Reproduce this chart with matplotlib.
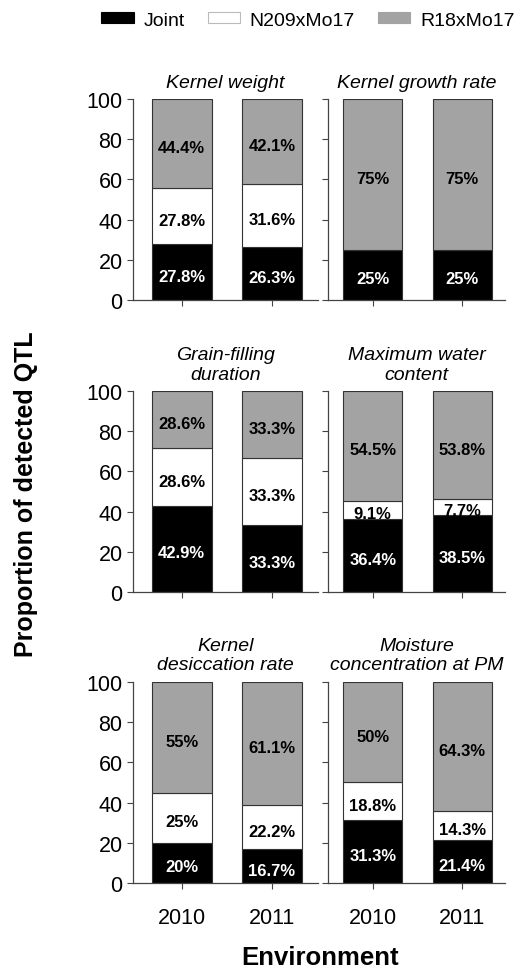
import matplotlib
matplotlib.use("Agg")

import matplotlib.pyplot as plt
import numpy as np
from matplotlib.patches import Patch

plt.rcParams["font.family"] = ["Liberation Sans", "DejaVu Sans"]

YEARS = ["2010", "2011"]
SERIES = ["Joint", "N209xMo17", "R18xMo17"]
COLORS = ["#000000", "#ffffff", "#a3a3a3"]
TEXT_COLORS = ["white", "black", "black"]

TITLES = [
    "Kernel weight", "Kernel growth rate",
    "Grain-filling\nduration", "Maximum water\ncontent",
    "Kernel\ndesiccation rate", "Moisture\nconcentration at PM",
]
# per panel: [joint, N209xMo17, R18xMo17], one value per year
JOINT = [[27.8, 26.3], [25, 25], [42.9, 33.3], [36.4, 38.5], [20, 16.7], [31.3, 21.4]]
N209 = [[27.8, 31.6], [0, 0], [28.6, 33.3], [9.1, 7.7], [25, 22.2], [18.8, 14.3]]
R18 = [[44.4, 42.1], [75, 75], [28.6, 33.3], [54.5, 53.8], [55, 61.1], [50, 64.3]]

W, H = 525, 970
fig = plt.figure(figsize=(W / 100, H / 100), dpi=100)

# axes boxes in pixels (left, right) per column, (top, bottom) per row
cols = [(133, 318), (328, 505)]
rows = [(100, 301), (392, 593), (683, 884)]

x = np.arange(len(YEARS))
for i, title in enumerate(TITLES):
    r, c = divmod(i, 2)
    (x0, x1), (y0, y1) = cols[c], rows[r]
    ax = fig.add_axes([x0 / W, 1 - y1 / H, (x1 - x0) / W, (y1 - y0) / H])
    bottom = np.zeros(len(YEARS))
    for s, vals in enumerate([JOINT[i], N209[i], R18[i]]):
        vals = np.array(vals, dtype=float)
        ax.bar(x, vals, width=0.66, bottom=bottom, color=COLORS[s],
               edgecolor="#333333", linewidth=0.8)
        for xi, v, b in zip(x, vals, bottom):
            if v > 0:
                ax.text(xi, b + v / 2 - 2, f"{v:g}%", ha="center", va="center",
                        fontsize=12, fontweight="bold", color=TEXT_COLORS[s])
        bottom += vals

    ax.set_ylim(0, 100)
    ax.set_xlim(-0.54, 1.51) if c == 0 else ax.set_xlim(-0.5, 1.48)
    ax.set_yticks([0, 20, 40, 60, 80, 100])
    ax.set_xticks(x)
    ax.tick_params(axis="both", length=4, width=0.8, color="#444444", labelsize=15.5)
    if c == 1:
        ax.set_yticklabels([])
    if r < 2:
        ax.set_xticklabels([])
    else:
        ax.set_xticklabels(YEARS)
        ax.tick_params(axis="x", pad=13)
    for side in ("top", "right"):
        ax.spines[side].set_visible(False)
    for side in ("left", "bottom"):
        ax.spines[side].set_color("#444444")
        ax.spines[side].set_linewidth(0.9)
    ax.set_title(title, fontsize=14, style="italic", pad=9, linespacing=1.2)

fig.text(26 / W, 1 - 494 / H, "Proportion of detected QTL", rotation=90,
         ha="center", va="center", fontsize=18, fontweight="bold")
fig.text(320 / W, 1 - 958 / H, "Environment", ha="center", va="center",
         fontsize=18.5, fontweight="bold")

handles = [Patch(facecolor=col, edgecolor="#bbbbbb" if col == "#ffffff" else col,
                 linewidth=0.8) for col in COLORS]
fig.legend(handles, SERIES, loc="center", bbox_to_anchor=(308 / W, 1 - 21 / H),
           ncol=3, frameon=False, fontsize=14, handlelength=1.65, handleheight=0.55,
           columnspacing=1.2, handletextpad=0.5, borderpad=0.1)

fig.savefig("out.png", dpi=100)
